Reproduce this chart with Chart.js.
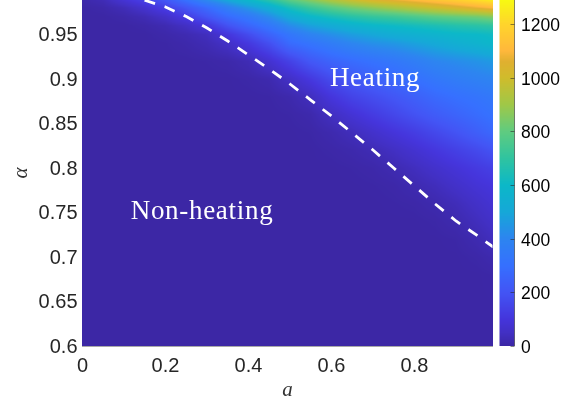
<!DOCTYPE html>
<html><head><meta charset="utf-8">
<style>html,body{margin:0;padding:0;background:#fff}canvas{display:block}</style>
<script src="https://cdn.jsdelivr.net/npm/chart.js@4"></script>
</head><body><canvas id="c" width="584" height="405"></canvas>
<script>
const aGrid=[0,.05,.1,.15,.2,.25,.3,.35,.4,.45,.5,.55,.6,.65,.7,.75,.8,.85,.9,.95,.99];
const alphaGrid=[.99,.98,.97,.96,.95,.94,.92,.90,.88,.86,.84,.82,.80,.78,.76,.74,.72,.70,.68,.64,.60];
const heat099=[10,30,90,150,220,320,430,520,610,700,810,880,950,1010,1060,1095,1130,1165,1200,1240,1280];
const heat098=[0,8,30,70,130,200,280,370,450,530,640,720,780,830,870,910,950,990,1030,1070,1100];
const heat097=[0,0,8,25,60,120,200,280,340,420,520,590,640,680,710,730,760,790,810,830,860];
const heat096=[0,0,0,6,20,50,100,190,260,330,420,480,520,560,590,610,630,650,670,685,700];
const heat095=[0,0,0,0,8,20,40,100,170,250,330,390,430,470,500,530,550,570,590,600,615];
const heat094=[0,0,0,0,2,10,25,55,110,180,280,320,360,400,430,450,480,510,540,565,590];
const heat092=[0,0,0,0,0,0,3,8,25,75,140,210,255,285,310,335,365,400,420,440,460];
const heat090=[0,0,0,0,0,0,0,0,5,15,55,110,170,210,240,270,300,335,360,380,395];
const heat088=[0,0,0,0,0,0,0,0,0,2,12,40,100,145,175,205,240,275,300,320,340];
const heat086=[0,0,0,0,0,0,0,0,0,0,3,12,45,85,120,155,190,225,255,285,310];
const heat084=[0,0,0,0,0,0,0,0,0,0,0,3,15,35,65,95,125,160,195,235,270];
const heat082=[0,0,0,0,0,0,0,0,0,0,0,0,5,12,25,48,75,105,135,165,195];
const heat080=[0,0,0,0,0,0,0,0,0,0,0,0,0,3,8,20,40,65,90,115,135];
const heat078=[0,0,0,0,0,0,0,0,0,0,0,0,0,0,2,6,18,35,60,85,100];
const heat076=[0,0,0,0,0,0,0,0,0,0,0,0,0,0,0,2,5,15,32,58,80];
const heat074=[0,0,0,0,0,0,0,0,0,0,0,0,0,0,0,0,0,4,15,38,60];
const heat072=[0,0,0,0,0,0,0,0,0,0,0,0,0,0,0,0,0,0,3,18,40];
const heat070=[0,0,0,0,0,0,0,0,0,0,0,0,0,0,0,0,0,0,0,5,15];
const heat068=[0,0,0,0,0,0,0,0,0,0,0,0,0,0,0,0,0,0,0,0,3];
const heat064=[0,0,0,0,0,0,0,0,0,0,0,0,0,0,0,0,0,0,0,0,0];
const heat060=[0,0,0,0,0,0,0,0,0,0,0,0,0,0,0,0,0,0,0,0,0];
const heatRows=[heat099,heat098,heat097,heat096,heat095,heat094,heat092,heat090,heat088,heat086,heat084,heat082,heat080,heat078,heat076,heat074,heat072,heat070,heat068,heat064,heat060];
const boundaryA=[.1,.15,.2,.25,.3,.35,.4,.45,.5,.55,.6,.65,.7,.75,.8,.85,.9,.95,.99];
const boundaryAlpha=[.9933,.9885,.981,.9702,.9573,.9427,.927,.9112,.8944,.8764,.8584,.8393,.8202,.8,.7798,.7596,.7405,.7245,.7112];
const aTicks=[0,.2,.4,.6,.8];
const alphaTicks=[.6,.65,.7,.75,.8,.85,.9,.95];
const barTicks=[0,200,400,600,800,1000,1200];
const regionLabels=["Heating","Non-heating"];
const regionA=[.705,.288];
const regionAlpha=[.9,.751];
const cmapV=[0,50,100,200,300,400,500,600,700,800,900,1000,1060,1100,1200,1290];
const cmapC=[[60,39,165],[66,48,196],[69,53,220],[67,85,245],[54,112,255],[45,133,240],[22,168,216],[12,184,200],[48,196,160],[96,204,128],[160,200,72],[208,188,44],[224,176,48],[255,184,60],[255,213,44],[248,250,18]];
function colorOf(v){
  if(v<=cmapV[0])return cmapC[0];
  for(let i=1;i<cmapV.length;i++){ if(v<=cmapV[i]){const t=(v-cmapV[i-1])/(cmapV[i]-cmapV[i-1]);const p=cmapC[i-1],q=cmapC[i];return [p[0]+t*(q[0]-p[0]),p[1]+t*(q[1]-p[1]),p[2]+t*(q[2]-p[2])];}}
  return cmapC[cmapC.length-1];
}
function sampleHeat(a,al){
  let i=0;while(i<aGrid.length-2&&a>aGrid[i+1])i++;
  let j=0;while(j<alphaGrid.length-2&&al<alphaGrid[j+1])j++;
  let tx=(a-aGrid[i])/(aGrid[i+1]-aGrid[i]);tx=Math.max(0,Math.min(1,tx));
  let ty=(alphaGrid[j]-al)/(alphaGrid[j]-alphaGrid[j+1]);ty=Math.max(-.2,Math.min(1,ty));
  const r0=heatRows[j],r1=heatRows[j+1];
  const top=r0[i]+tx*(r0[i+1]-r0[i]),bot=r1[i]+tx*(r1[i+1]-r1[i]);
  return top+ty*(bot-top);
}
const heatPlugin={id:'heat',
  beforeDatasetsDraw(ch){
    const {ctx,chartArea:ar,scales:{x,y}}=ch;
    const L=Math.floor(ar.left),T=Math.floor(ar.top),W=Math.ceil(ar.right)-L,H=Math.ceil(ar.bottom)-T;
    const img=ctx.createImageData(W,H);
    for(let py=0;py<H;py++){const al=y.getValueForPixel(T+py+.5);
      for(let px=0;px<W;px++){const a=x.getValueForPixel(L+px+.5);
        const c=colorOf(sampleHeat(a,al));const k=4*(py*W+px);
        img.data[k]=c[0];img.data[k+1]=c[1];img.data[k+2]=c[2];img.data[k+3]=255;}}
    ctx.putImageData(img,L,T);
    const b=ch.scales.cbar,bx0=499.5,bx1=514.5;
    for(let py=Math.floor(b.top);py<Math.ceil(b.bottom);py++){const c=colorOf(b.getValueForPixel(py+.5));
      ctx.fillStyle=`rgb(${c[0]|0},${c[1]|0},${c[2]|0})`;ctx.fillRect(bx0,py,bx1-bx0,1);}
    ctx.save();ctx.strokeStyle='rgba(40,40,40,.7)';ctx.lineWidth=.8;
    ctx.beginPath();ctx.moveTo(bx1,b.top);ctx.lineTo(bx1,b.bottom);
    barTicks.forEach(v=>{const p=Math.round(b.getPixelForValue(v))+.5;ctx.moveTo(bx1-4,p);ctx.lineTo(bx1,p);});
    ctx.stroke();ctx.restore();
  },
  afterDatasetsDraw(ch){
    const {ctx,scales:{x,y}}=ch;ctx.save();ctx.fillStyle='#fff';ctx.font='27px "Liberation Serif"';ctx.letterSpacing='0.7px';ctx.textAlign='center';ctx.textBaseline='middle';
    regionLabels.forEach((t,i)=>ctx.fillText(t,x.getPixelForValue(regionA[i]),y.getPixelForValue(regionAlpha[i])));
    ctx.restore();
  }};
const tickFont={family:'"Liberation Sans"',size:20};
function noPad(s){s.paddingTop=0;s.paddingBottom=0;s.paddingLeft=0;s.paddingRight=0;}
function nudgeLabels(s,dy){const orig=s._computeLabelItems;s._computeLabelItems=function(ca){const items=orig.call(this,ca);items.forEach(it=>{it.options.translation=[it.options.translation[0],it.options.translation[1]+dy];});return items;};}
new Chart(document.getElementById('c'),{
  type:'scatter',
  data:{datasets:[{label:'boundary',data:boundaryA.map((a,i)=>({x:a,y:boundaryAlpha[i]})),showLine:true,borderColor:'#fff',borderWidth:2.8,borderDash:[11,10],pointRadius:0,tension:0,fill:false}]},
  options:{responsive:false,animation:false,devicePixelRatio:1,
    layout:{padding:0,autoPadding:false},
    plugins:{legend:{display:false},tooltip:{enabled:false},title:{display:false}},
    scales:{
      x:{type:'linear',min:0,max:.988,grid:{display:false,drawTicks:false},border:{display:true,color:'#a9a9a9',width:1},
        afterBuildTicks(s){s.ticks=aTicks.map(v=>({value:v}));},
        ticks:{font:tickFont,color:'#262626',padding:8,maxRotation:0,autoSkip:false,callback:v=>String(v)},
        title:{display:true,text:'a',font:{family:'"Liberation Serif"',size:21,style:'italic'},color:'#333',padding:{top:0,bottom:2}},
        afterFit(s){s.height=59;noPad(s);}},
      y:{type:'linear',min:.6,max:.9888,grid:{display:false,drawTicks:false},border:{display:true,color:'#a9a9a9',width:1},
        afterBuildTicks(s){s.ticks=alphaTicks.map(v=>({value:v}));},
        ticks:{font:tickFont,color:'#262626',padding:5,autoSkip:false,callback:v=>String(v)},
        title:{display:true,text:'α',font:{family:'"Liberation Serif"',size:21,style:'italic'},color:'#333',padding:{top:9,bottom:0}},
        afterFit(s){s.width=82.5;noPad(s);nudgeLabels(s,.5);}},
      cbar:{type:'linear',position:'right',min:0,max:1290,grid:{display:false,drawTicks:false},border:{display:false},
        afterBuildTicks(s){s.ticks=barTicks.map(v=>({value:v}));},
        ticks:{font:{family:'"Liberation Sans"',size:17.5},color:'#000',padding:28.5,autoSkip:false,callback:v=>String(v)},
        afterFit(s){s.width=91.5;noPad(s);nudgeLabels(s,1);}}
    }},
  plugins:[heatPlugin]});
</script></body></html>
